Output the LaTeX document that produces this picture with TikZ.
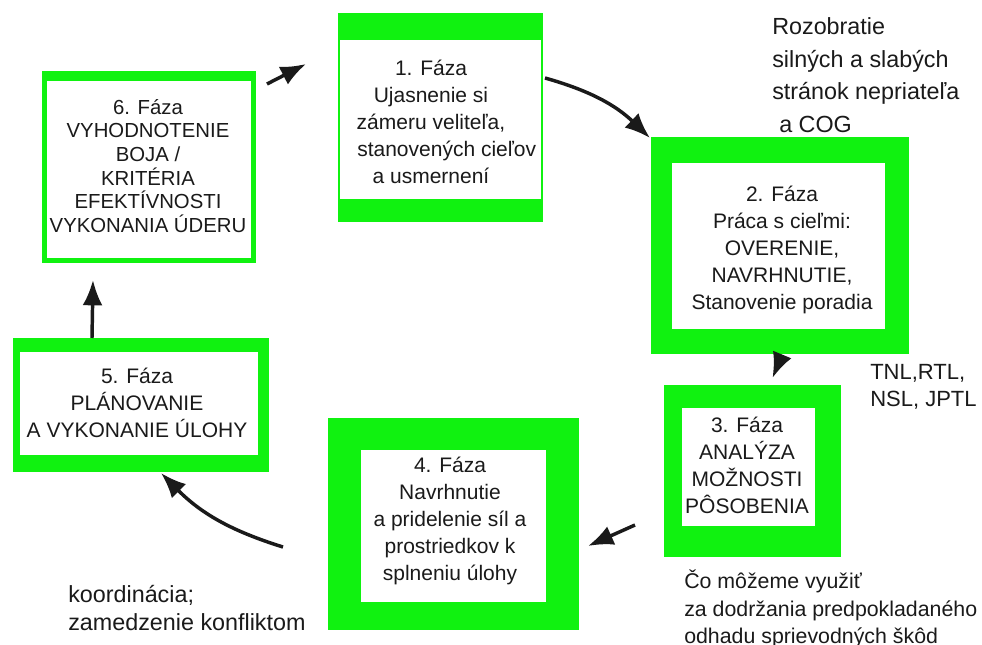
\documentclass[tikz,border=0pt]{standalone}
\usepackage{fontspec}
\setmainfont{Liberation Sans}
\usetikzlibrary{arrows.meta,calc}
\definecolor{phasegreen}{RGB}{16,242,16}
\definecolor{ink}{RGB}{26,26,26}
\def\pxu{0.75pt}
\begin{document}
\begin{tikzpicture}[x=0.75pt,y=-0.75pt,
  frame/.style={fill=phasegreen, draw=none, anchor=north west, inner sep=0pt, outer sep=0pt},
  pane/.style={fill=white, draw=none, anchor=north west, inner sep=0pt, outer sep=0pt},
  phase/.style={text=ink, align=center, inner sep=0pt, font=\fontsize{15.75}{20.25}\selectfont},
  note/.style={text=ink, align=left, anchor=west, inner sep=0pt},
  flow/.style={draw=ink, line width=2.6pt, -{Latex[length=19pt,width=15pt]}}]
\fill[white] (0,0) rectangle (982,645);
\useasboundingbox (0,0) rectangle (982,645);

% phase 1
\node[frame, minimum width={205*\pxu}, minimum height={209*\pxu}] (f1) at (338,13) {};
\node[pane, minimum width={201*\pxu}, minimum height={159*\pxu}] (p1) at (340,40) {};
\node[phase] (t1) at (431,122) {1. Fáza\\Ujasnenie si\\zámeru veliteľa,\\\hspace*{1.5em}stanovených cieľov\\a usmernení};

% phase 2
\node[frame, minimum width={258*\pxu}, minimum height={217*\pxu}] (f2) at (651,137) {};
\node[pane, minimum width={213*\pxu}, minimum height={166*\pxu}] (p2) at (672,163) {};
\node[phase] (t2) at (782,250) {2. Fáza\\Práca s cieľmi:\\OVERENIE,\\NAVRHNUTIE,\\Stanovenie poradia};

% phase 3
\node[frame, minimum width={177*\pxu}, minimum height={172*\pxu}] (f3) at (664,385) {};
\node[pane, minimum width={133*\pxu}, minimum height={118*\pxu}] (p3) at (682,408) {};
\node[phase] (t3) at (747,465) {3. Fáza\\ANALÝZA\\MOŽNOSTI\\PÔSOBENIA};

% phase 4
\node[frame, minimum width={251*\pxu}, minimum height={212*\pxu}] (f4) at (328,418) {};
\node[pane, minimum width={185*\pxu}, minimum height={152*\pxu}] (p4) at (361,450) {};
\node[phase] (t4) at (450,521) {4. Fáza\\Navrhnutie\\a pridelenie síl a\\prostriedkov k\\splneniu úlohy};

% phase 5
\node[frame, minimum width={256*\pxu}, minimum height={134*\pxu}] (f5) at (13,338) {};
\node[pane, minimum width={238*\pxu}, minimum height={103*\pxu}] (p5) at (20,352) {};
\node[phase] (t5) at (137,403) {5. Fáza\\PLÁNOVANIE\\A VYKONANIE ÚLOHY};

% phase 6
\node[frame, minimum width={214*\pxu}, minimum height={192*\pxu}] (f6) at (42,71) {};
\node[pane, minimum width={204*\pxu}, minimum height={177*\pxu}] (p6) at (47,81) {};
\node[phase, font=\fontsize{15.25}{17.75}\selectfont] (t6) at (148,166) {6. Fáza\\VYHODNOTENIE\\BOJA /\\KRITÉRIA\\EFEKTÍVNOSTI\\VYKONANIA ÚDERU};

% side notes
\node[note, font=\fontsize{17.5}{24.5}\selectfont] (n1) at (772,75) {Rozobratie\\silných a slabých\\stránok nepriateľa\\\hspace*{0.3em}a COG};
\node[note, font=\fontsize{16.5}{20.5}\selectfont] (n2) at (870,387) {TNL,RTL,\\NSL, JPTL};
\node[note, font=\fontsize{16}{20.5}\selectfont] (n3) at (684,609) {Čo môžeme využiť\\za dodržania predpokladaného\\odhadu sprievodných škôd};
\node[note, font=\fontsize{17.5}{21}\selectfont] (n4) at (68,608) {koordinácia;\\zamedzenie konfliktom};

% cycle connectors
\draw[flow] ($(f6.north east)+(11,13)$) -- ($(f1.north west)+(-32,51)$);
\draw[flow] ($(f1.north east)+(2,65)$) to[bend left=14] ($(f2.north west)+(-1,1)$);
\draw[flow] ($(f2.south)+(2,1)$) -- ($(f3.north)+(20,-7)$);
\draw[flow] ($(f3.south west)+(-29,-32)$) -- ($(f4.east)+(9,22)$);
\draw[flow] ($(f4.west)+(-45,23)$) to[bend left=14] ($(f5.south)+(20,1)$);
\draw[flow] ($(f5.north west)+(79,0)$) -- ($(f6.south west)+(51,17)$);
\end{tikzpicture}
\end{document}
